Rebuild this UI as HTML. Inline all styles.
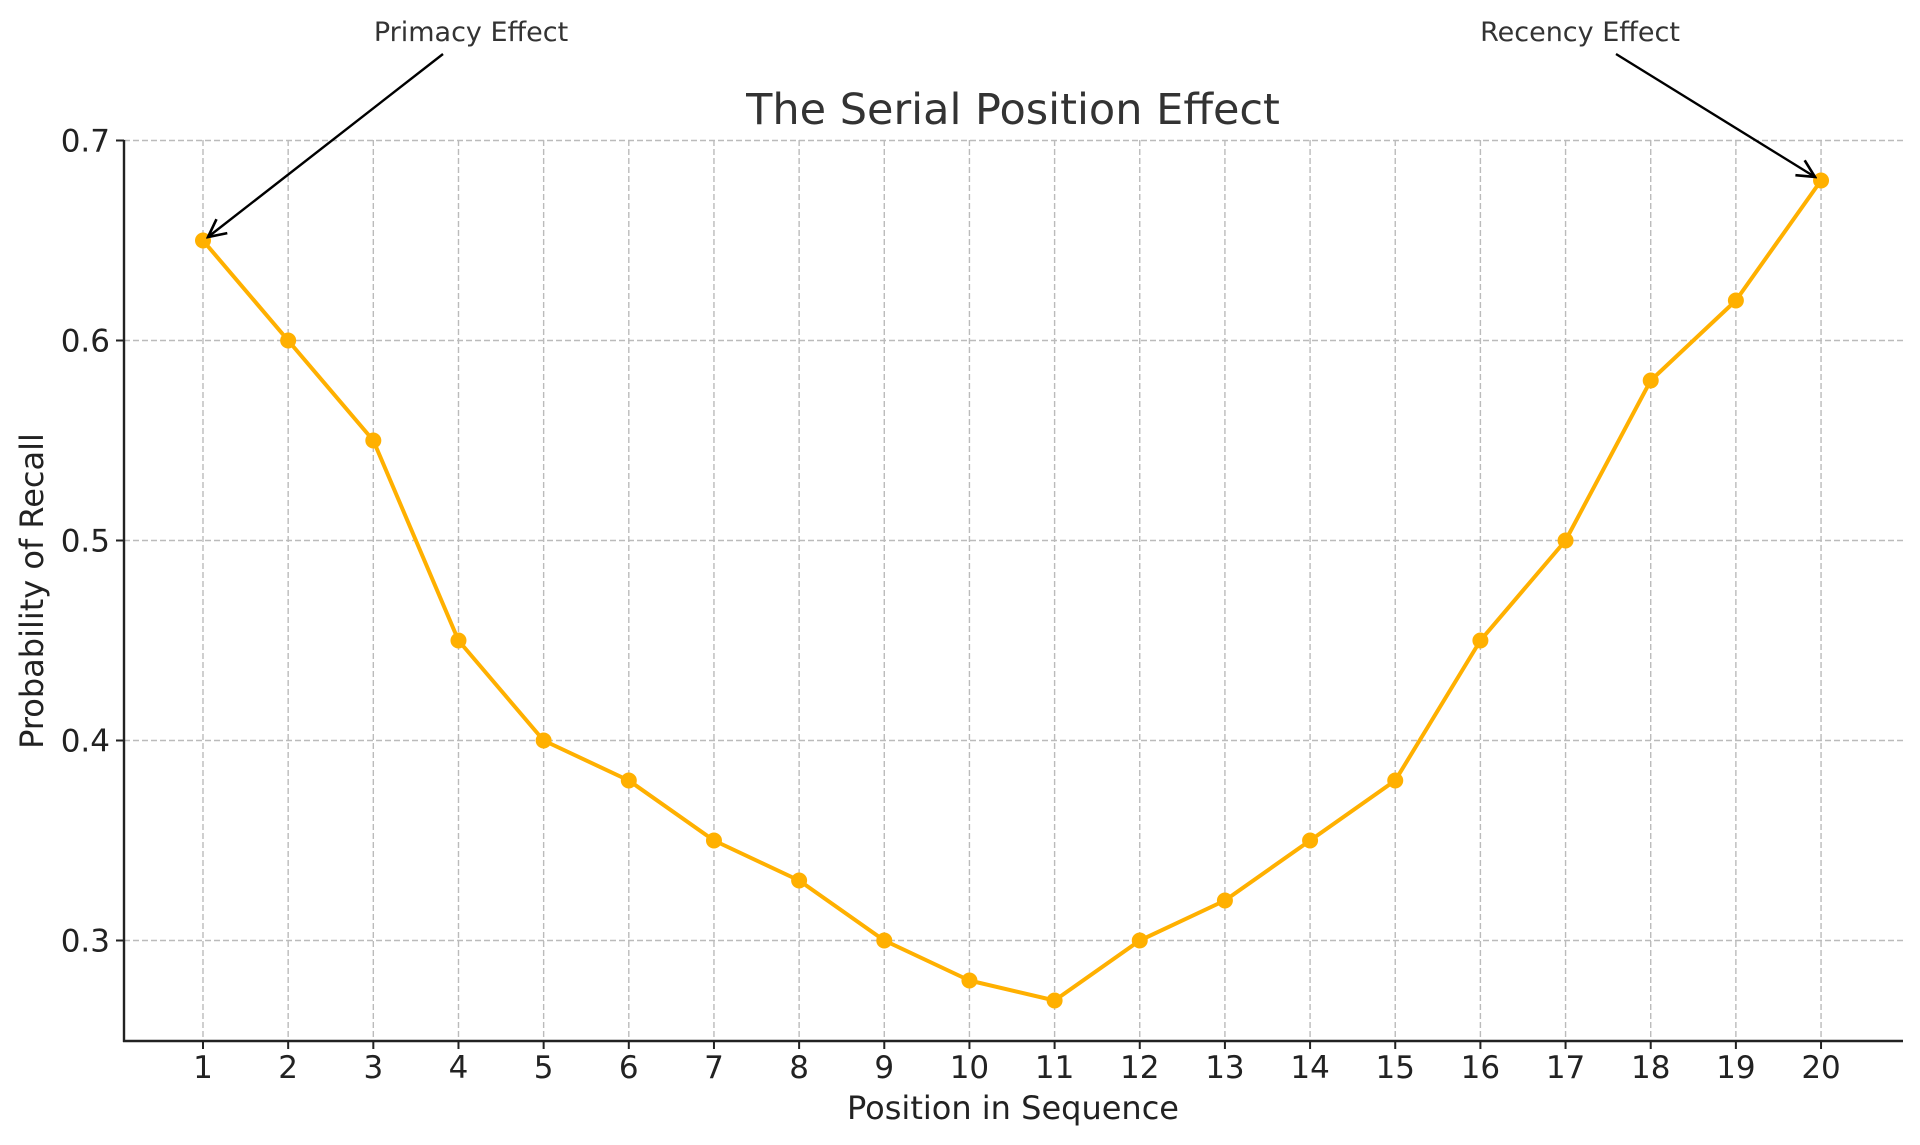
<!DOCTYPE html>
<html><head><meta charset="utf-8"><style>html,body{margin:0;padding:0;background:#fff}svg{display:block}</style></head>
<body>
<svg id="s" width="1920" height="1145" xmlns="http://www.w3.org/2000/svg" font-family="DejaVu Sans, Liberation Sans, sans-serif">
<defs><marker id="ah" viewBox="0 0 20 20" refX="18" refY="10" markerWidth="22" markerHeight="22" markerUnits="userSpaceOnUse" orient="auto"><path d="M2,2 L18,10 L2,18" fill="none" stroke="#000" stroke-width="2.4"/></marker></defs>
<g id="g"></g>
<text x="1013" y="124" font-size="43" fill="#333" text-anchor="middle">The Serial Position Effect</text>
<text x="1013" y="1119" font-size="32" fill="#222" text-anchor="middle">Position in Sequence</text>
<text transform="translate(43,591) rotate(-90)" font-size="32" fill="#222" text-anchor="middle">Probability of Recall</text>
<text x="471" y="41" font-size="27" fill="#333" text-anchor="middle">Primacy Effect</text>
<text x="1580" y="41" font-size="27" fill="#333" text-anchor="middle">Recency Effect</text>
<line x1="443" y1="54" x2="208" y2="237" stroke="#000" stroke-width="2.4" marker-end="url(#ah)"/>
<line x1="1616" y1="54" x2="1815" y2="177" stroke="#000" stroke-width="2.4" marker-end="url(#ah)"/>
</svg>
<script>
var d=[0.65,0.6,0.55,0.45,0.4,0.38,0.35,0.33,0.3,0.28,0.27,0.3,0.32,0.35,0.38,0.45,0.5,0.58,0.62,0.68];
function X(i){return 203+(i-1)*85.16;}function Y(v){return 140.5+(0.7-v)*2000;}
var h='';
for(var i=1;i<=20;i++){var x=X(i);h+='<line x1="'+x+'" y1="140" x2="'+x+'" y2="1041" stroke="#bbb" stroke-width="1.4" stroke-dasharray="6,3"/>';
h+='<line x1="'+x+'" y1="1041" x2="'+x+'" y2="1049" stroke="#222" stroke-width="2"/>';
h+='<text x="'+x+'" y="1078" font-size="31" fill="#222" text-anchor="middle">'+i+'</text>';}
for(var k=3;k<=7;k++){var y=Y(k/10);h+='<line x1="124" y1="'+y+'" x2="1903" y2="'+y+'" stroke="#bbb" stroke-width="1.4" stroke-dasharray="6,3"/>';
h+='<line x1="116" y1="'+y+'" x2="124" y2="'+y+'" stroke="#222" stroke-width="2"/>';
h+='<text x="110" y="'+(y+11)+'" font-size="31" fill="#222" text-anchor="end">0.'+k+'</text>';}
h+='<line x1="124" y1="140" x2="124" y2="1042" stroke="#222" stroke-width="2.4"/><line x1="123" y1="1041" x2="1903" y2="1041" stroke="#222" stroke-width="2.4"/>';
var p='';for(var i=0;i<20;i++)p+=X(i+1)+','+Y(d[i])+' ';
h+='<polyline points="'+p+'" fill="none" stroke="#FFB000" stroke-width="4" stroke-linejoin="round"/>';
for(var i=0;i<20;i++)h+='<circle cx="'+X(i+1)+'" cy="'+Y(d[i])+'" r="8" fill="#FFB000"/>';
document.getElementById('g').innerHTML=h;
</script>
</body></html>
